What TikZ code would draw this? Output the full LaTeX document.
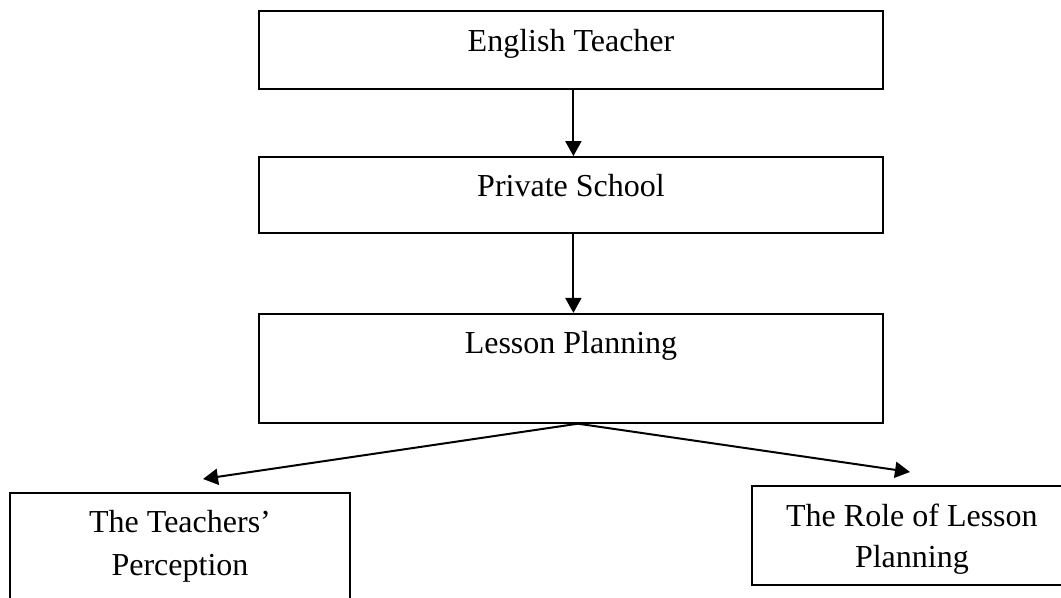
\documentclass[tikz,border=0pt]{standalone}
\usepackage{fontspec}
\setmainfont{Liberation Serif}
\usetikzlibrary{positioning,arrows.meta}
\tikzset{main box/.style={rectangle,draw,line width=0.9pt,inner sep=0pt,align=center,
    font=\fontsize{16}{21}\selectfont,text height=20pt},
  flow arrow/.style={-{Triangle[width=8pt,length=7.5pt]},line width=1pt} }

\begin{document}
\begin{tikzpicture}[x=0.5pt,y=-0.5pt]
  \clip (0,0) rectangle (1061,598);

  \node[main box,minimum width=312pt,text depth=19pt,anchor=north] (teacher) at (571,10.3) {English Teacher};
  \node[main box,minimum width=312pt,text depth=18pt] (school) [below=33pt of teacher] {Private School};
  \node[main box,minimum width=312pt,text depth=34.5pt] (planning) [below=39.5pt of school] {Lesson Planning};

  % two-line boxes: baseline sits on the last line
  \node[main box,minimum width=170pt,text height=41.5pt,text depth=20pt,anchor=north] (perception) at (180,492) {The Teachers'\\[0.5pt] Perception};
  \node[main box,minimum width=160pt,text height=41pt,text depth=8.5pt,anchor=north west] (role) at (751,485) {The Role of Lesson\\[-0.5pt] Planning};

  \coordinate (left tip) at (203,479);
  \coordinate (right tip) at (910,472);

  \draw[flow arrow] ([xshift=1.2pt]teacher.south) -- ([xshift=1.2pt]school.north);
  \draw[flow arrow] ([xshift=1.2pt]school.south) -- ([xshift=1.2pt]planning.north);
  \draw[flow arrow] ([xshift=3.5pt]planning.south) -- (left tip);
  \draw[flow arrow] ([xshift=3.5pt]planning.south) -- (right tip);
\end{tikzpicture}
\end{document}
